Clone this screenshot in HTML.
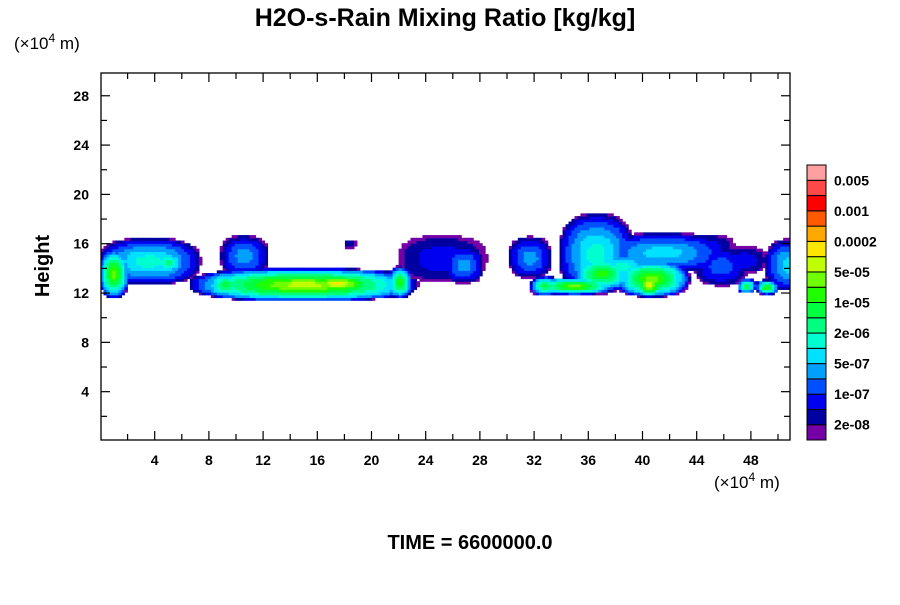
<!DOCTYPE html>
<html><head><meta charset="utf-8"><style>
body{margin:0;background:#fff;width:900px;height:600px;overflow:hidden}
svg{font-family:"Liberation Sans",Arial,sans-serif}
</style></head><body>
<svg id="s" width="900" height="600" xmlns="http://www.w3.org/2000/svg">
<text x="445" y="26" text-anchor="middle" font-size="25" font-weight="bold">H2O-s-Rain Mixing Ratio [kg/kg]</text>
<text x="14" y="49" font-size="17">(×10<tspan font-size="12" dy="-7">4</tspan><tspan dy="7">  m)</tspan></text>
<text x="714" y="488" font-size="17">(×10<tspan font-size="12" dy="-7">4</tspan><tspan dy="7">  m)</tspan></text>
<text transform="translate(49,266) rotate(-90)" text-anchor="middle" font-size="20" font-weight="bold">Height</text>
<text x="470" y="549" text-anchor="middle" font-size="20" font-weight="bold">TIME = 6600000.0</text>
<defs><clipPath id="cp"><rect x="101" y="73" width="689" height="367"/></clipPath></defs>
<g id="field" clip-path="url(#cp)"></g>
<g id="axes"></g>
<g id="cbar"></g>
</svg>
<script>
const xTicks=[4,8,12,16,20,24,28,32,36,40,44,48];
const yTicks=[4,8,12,16,20,24,28];
const cbColors=["#7400a6","#0000a0","#0000f0","#0050ff","#00a0ff","#00e0ff","#00ffd0","#00ff80","#00ff40","#20ff00","#70ff00","#c0ff00","#ffe600","#ffa800","#ff5a00","#ff0000","#ff4848","#ffa0a0"];
const cbLabels=["2e-08","1e-07","5e-07","2e-06","1e-05","5e-05","0.0002","0.001","0.005"];
const blobX=[3.6,1.0,5.0,10.6,18.4,15.0,17.5,22.1,9.2,7.8,25.2,26.8,31.7,32.8,36.6,41.5,44.5,45.8,37.0,40.7,40.5,35.0,47.5,50.8,47.7,49.2,38.5];
const blobZ=[14.6,13.6,14.5,15.0,16.0,12.7,12.8,12.9,12.7,12.9,14.8,14.3,14.9,12.6,15.2,15.3,15.8,14.2,13.6,13.2,12.7,12.6,14.7,14.3,12.6,12.5,14.2];
const blobSX=[3.8,1.1,1.3,1.8,0.45,8.5,3.2,0.9,1.4,1.3,3.3,1.5,1.6,1.1,2.8,4.9,2.3,2.0,2.3,2.8,1.0,3.0,1.7,1.8,0.7,0.8,2.5];
const blobSZ=[1.9,2.0,1.0,1.7,0.35,1.35,0.8,1.3,1.1,0.6,1.9,1.5,1.7,0.8,3.3,1.6,1.0,1.6,1.4,1.5,1.0,0.7,1.1,2.1,0.6,0.6,1.3];
const blobPeak=[6,10,7,4,1,11,12,9,8,3,2,4,4,8,6,5,2,3,9,10,12,10,2,5,8,9,6];
const X0=100.5,XS=13.55,Y0=441,YS=12.33;
const sx=v=>X0+v*XS, sy=v=>Y0-v*YS;
const NS="http://www.w3.org/2000/svg";
function mk(t,a,p){const e=document.createElementNS(NS,t);for(const k in a)e.setAttribute(k,a[k]);p.appendChild(e);return e;}
const F=document.getElementById('field');
const step=0.22;
for(let x=0;x<51;x+=step){for(let z=9;z<20;z+=step){
  let lv=-1;
  for(let i=0;i<blobX.length;i++){
    const dx=Math.abs(x+step/2-blobX[i])/blobSX[i],dz=Math.abs(z+step/2-blobZ[i])/blobSZ[i];
    const d=Math.pow(Math.pow(dx,2.5)+Math.pow(dz,2.5),0.4); if(d>=1)continue;
    const l=Math.floor((blobPeak[i]+1)*Math.pow(1-d,0.55)); if(l>lv)lv=l;
  }
  if(lv>=0){const r=mk('rect',{x:sx(x),y:sy(z+step),width:step*XS+0.6,height:step*YS+0.6,fill:cbColors[Math.min(lv,17)]},F);
  
  }
}}
const A=document.getElementById('axes');
const fr=mk('rect',{x:101,y:73,width:689,height:367,fill:'none',stroke:'#000','stroke-width':1.3},A);


for(let v=2;v<51;v+=2){const L=v%4===0?9:6,p=sx(v);
  mk('line',{x1:p,y1:440,x2:p,y2:440-L,stroke:'#000','stroke-width':1.2},A);
  mk('line',{x1:p,y1:73,x2:p,y2:73+L,stroke:'#000','stroke-width':1.2},A);}
for(let v=2;v<30;v+=2){const L=v%4===0?9:6,p=sy(v);
  mk('line',{x1:101,y1:p,x2:101+L,y2:p,stroke:'#000','stroke-width':1.2},A);
  mk('line',{x1:790,y1:p,x2:790-L,y2:p,stroke:'#000','stroke-width':1.2},A);}
xTicks.forEach(v=>{const t=mk('text',{x:sx(v),y:465,'text-anchor':'middle','font-size':14,'font-weight':'bold'},A);t.textContent=v;
  
  });
yTicks.forEach(v=>{const t=mk('text',{x:89,y:sy(v)+5,'text-anchor':'end','font-size':14,'font-weight':'bold'},A);t.textContent=v;
  
  });
const C=document.getElementById('cbar');


const cbTop=165,cbBot=440,bh=(cbBot-cbTop)/cbColors.length;
cbColors.forEach((c,i)=>{const r=mk('rect',{x:807,y:cbBot-(i+1)*bh,width:19,height:bh,fill:c,stroke:'#000','stroke-width':1},C);
  
  });
cbLabels.forEach((l,i)=>{const y=cbBot-(2*i+1)*bh;const t=mk('text',{x:834,y:y+5,'font-size':14,'font-weight':'bold'},C);t.textContent=l;
  
  });
</script>
</body></html>
